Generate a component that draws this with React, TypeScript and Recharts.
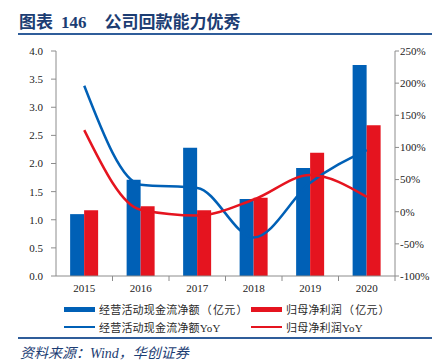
import React from 'react';
import { ComposedChart, Bar, Line, XAxis, YAxis } from 'recharts';

const years = ['2015', '2016', '2017', '2018', '2019', '2020'];
const cashFlow = [1.1, 1.71, 2.28, 1.37, 1.92, 3.75];
const netProfit = [1.17, 1.24, 1.17, 1.39, 2.19, 2.68];
const cashFlowYoY = [196, 42, 37, -40, 45, 96];
const netProfitYoY = [127, 3, -6, 19, 57, 23];
const leftTicks = [0, 0.5, 1, 1.5, 2, 2.5, 3, 3.5, 4];
const rightTicks = [-100, -50, 0, 50, 100, 150, 200, 250];

const seriesNames = {
  cash: '经营活动现金流净额（亿元）',
  profit: '归母净利润（亿元）',
  cashYoY: '经营活动现金流净额YoY',
  profitYoY: '归母净利润YoY',
};

const BLUE = '#0060B6';
const RED = '#E5141F';
const AXIS = '#8C8C8C';
const NAVY = '#1C3D73';

const data = years.map((y, i) => ({
  year: y,
  cash: cashFlow[i],
  profit: netProfit[i],
  cashYoY: cashFlowYoY[i],
  profitYoY: netProfitYoY[i],
}));

const W = 443;
const H = 361;
const LEFT_W = 56;
const RIGHT_W = 48;
const PLOT_W = W - LEFT_W - RIGHT_W;
const HALF_BAND = PLOT_W / years.length / 2;

const serif = '"Liberation Serif", "Times New Roman", serif';
const cjk = '"Noto Sans CJK SC", sans-serif';

const XTick = (props: any) => {
  const { x, y, payload } = props;
  return (
    <g>
      <line x1={x + HALF_BAND} y1={y - 8} x2={x + HALF_BAND} y2={y - 3} stroke={AXIS} strokeWidth={1} />
      <text x={x} y={y} dy="0.71em" textAnchor="middle" fontFamily={serif} fontSize={11} fill="#222">
        {payload.value}
      </text>
    </g>
  );
};

// Render label text: CJK chars in CJK font, Latin in serif
const MixedText = ({ text }: { text: string }) => {
  const parts: { s: string; kind: string }[] = [];
  for (const ch of text) {
    const kind = /[A-Za-z0-9 ]/.test(ch) ? 'latin' : /[（）]/.test(ch) ? 'paren' : 'cjk';
    const last = parts[parts.length - 1];
    if (last && last.kind === kind && kind !== 'paren') last.s += ch;
    else parts.push({ s: ch, kind });
  }
  return (
    <>
      {parts.map((p, i) => (
        <span
          key={i}
          style={{
            fontFamily: p.kind === 'latin' ? serif : cjk,
            padding: p.kind === 'paren' ? '0 1px' : undefined,
          }}
        >
          {p.s}
        </span>
      ))}
    </>
  );
};

const LegendItem = ({ color, label, kind, left, top }: any) => (
  <div style={{ position: 'absolute', left, top, display: 'flex', alignItems: 'center', height: 14 }}>
    <div
      style={{
        width: 31,
        height: kind === 'bar' ? 5 : 2,
        background: color,
        marginRight: 4,
      }}
    />
    <span style={{ fontSize: 11, color: '#2a2a2a', whiteSpace: 'nowrap', letterSpacing: 0.2 }}>
      <MixedText text={label} />
    </span>
  </div>
);

export default function App() {
  return (
    <div style={{ position: 'absolute', left: 0, top: 0, width: W, height: H, background: '#fff', overflow: 'hidden' }}>
      <div
        style={{
          position: 'absolute',
          left: 19,
          top: 10,
          fontWeight: 'bold',
          fontSize: 17,
          color: NAVY,
          whiteSpace: 'pre',
          lineHeight: '21px',
        }}
      >
        <span style={{ fontFamily: cjk }}>图表</span>
        <span style={{ fontFamily: serif, marginLeft: 8 }}>146</span>
        <span style={{ fontFamily: cjk, marginLeft: 18 }}>公司回款能力优秀</span>
      </div>
      <div style={{ position: 'absolute', left: 18, top: 33, width: 414, height: 2, background: '#2F5D9A' }} />

      <ComposedChart
        width={W}
        height={H}
        data={data}
        margin={{ top: 51, right: 0, bottom: 55, left: 0 }}
        barCategoryGap="25%"
        barGap={0}
      >
        <XAxis
          dataKey="year"
          height={30}
          stroke={AXIS}
          tickLine={false}
          tickSize={5}
          tickMargin={3}
          tick={<XTick />}
          interval={0}
        />
        <YAxis
          yAxisId="left"
          orientation="left"
          width={LEFT_W}
          domain={[0, 4]}
          ticks={leftTicks}
          tickFormatter={(v: number) => v.toFixed(1)}
          stroke={AXIS}
          tickSize={5}
          tickMargin={8}
          tick={{ fontFamily: serif, fontSize: 11, fill: '#222' }}
          interval={0}
        />
        <YAxis
          yAxisId="right"
          orientation="right"
          width={RIGHT_W}
          domain={[-100, 250]}
          ticks={rightTicks}
          tickFormatter={(v: number) => `${v}%`}
          stroke={AXIS}
          tickSize={4}
          tickMargin={1}
          tick={{ fontFamily: serif, fontSize: 11, fill: '#222' }}
          interval={0}
        />
        <Bar yAxisId="left" dataKey="cash" name={seriesNames.cash} fill={BLUE} isAnimationActive={false} />
        <Bar yAxisId="left" dataKey="profit" name={seriesNames.profit} fill={RED} isAnimationActive={false} />
        <Line
          yAxisId="right"
          type="monotone"
          dataKey="cashYoY"
          name={seriesNames.cashYoY}
          stroke={BLUE}
          strokeWidth={2.5}
          dot={false}
          isAnimationActive={false}
        />
        <Line
          yAxisId="right"
          type="monotone"
          dataKey="profitYoY"
          name={seriesNames.profitYoY}
          stroke={RED}
          strokeWidth={2.5}
          dot={false}
          isAnimationActive={false}
        />
      </ComposedChart>

      <LegendItem color={BLUE} kind="bar" label={seriesNames.cash} left={64} top={302} />
      <LegendItem color={RED} kind="bar" label={seriesNames.profit} left={251} top={302} />
      <LegendItem color={BLUE} kind="line" label={seriesNames.cashYoY} left={64} top={320} />
      <LegendItem color={RED} kind="line" label={seriesNames.profitYoY} left={251} top={320} />

      <div style={{ position: 'absolute', left: 18, top: 337, width: 414, height: 1.5, background: '#2F5D9A' }} />
      <div
        style={{
          position: 'absolute',
          left: 20,
          top: 343,
          fontStyle: 'italic',
          fontSize: 14,
          color: NAVY,
          whiteSpace: 'nowrap',
          lineHeight: '18px',
        }}
      >
        <span style={{ fontFamily: cjk }}>资料来源：</span>
        <span style={{ fontFamily: serif }}>Wind</span>
        <span style={{ fontFamily: cjk }}>，华创证券</span>
      </div>
    </div>
  );
}
